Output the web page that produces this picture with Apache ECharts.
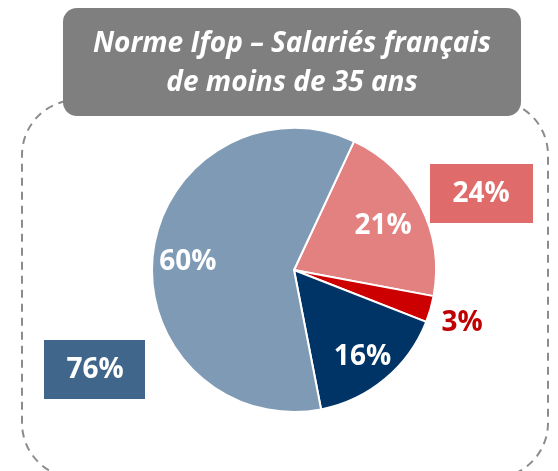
<!DOCTYPE html>
<html>
<head>
<meta charset="utf-8">
<script src="https://cdn.jsdelivr.net/npm/echarts@6/dist/echarts.min.js"></script>
<style>
	html, body { margin: 0; padding: 0; background: #fff; }
	#chart { width: 558px; height: 471px; }
</style>
</head>
<body>
<div id="chart"></div>
<script>
	// valeurs du camembert, dans l'ordre horaire depuis le haut
	const categories = ['Tout à fait', 'Plutôt', 'Plutôt pas', 'Pas du tout'];
	const values = [21, 3, 16, 60];
	const colors = ['#E38080', '#CC0000', '#003366', '#7F9AB4'];
	// totaux affichés dans les encadrés
	const totalLabels = ['24%', '76%'];
	const titleLines = ['Norme Ifop – Salariés français', 'de moins de 35 ans'];

	const font = '"Open Sans", sans-serif';
	const center = [294, 270];
	const labelCenter = [294, 275]; // étiquettes un peu plus bas

	const pieData = categories.map((name, i) => ({
		name: name,
		value: values[i],
		itemStyle: { color: colors[i] }
	}));

	// séries invisibles qui ne servent qu'à placer les étiquettes
	const insideLabels = pieData.map((d, i) => ({
		name: d.name,
		value: d.value,
		label: {
			show: values[i] > 5,
			padding: i === 0 ? [4, 12, 0, 0] : 0
		}
	}));
	const outsideLabels = pieData.map((d, i) => ({
		name: d.name,
		value: d.value,
		label: { show: values[i] <= 5 }
	}));

	const chart = echarts.init(document.getElementById('chart'));

	chart.setOption({
		animation: false,
		graphic: [
			{ //cadre pointillé
				type: 'rect',
				z: 1,
				shape: { x: 22, y: 100, width: 526, height: 378, r: 55 },
				style: { fill: 'none', stroke: '#8C8C8C', lineWidth: 2, lineDash: [8, 6] }
			},
			{ //bandeau du titre
				type: 'rect',
				z: 5,
				shape: { x: 63, y: 8, width: 458, height: 108, r: 14 },
				style: { fill: '#7F7F7F' }
			},
			{
				type: 'text',
				z: 6,
				x: 292, y: 64,
				style: {
					text: titleLines.join('\n'),
					fill: '#fff',
					font: 'italic bold 28px ' + font,
					lineHeight: 39,
					align: 'center',
					verticalAlign: 'middle'
				}
			},
			{ //encadré 24%
				type: 'rect',
				z: 5,
				shape: { x: 430, y: 164, width: 103, height: 59 },
				style: { fill: '#E06B6B' }
			},
			{
				type: 'text',
				z: 6,
				x: 481, y: 194,
				style: {
					text: totalLabels[0],
					fill: '#fff',
					font: 'bold 28px ' + font,
					align: 'center',
					verticalAlign: 'middle'
				}
			},
			{ //encadré 76%
				type: 'rect',
				z: 5,
				shape: { x: 44, y: 340, width: 101, height: 59 },
				style: { fill: '#41668C' }
			},
			{
				type: 'text',
				z: 6,
				x: 95, y: 370,
				style: {
					text: totalLabels[1],
					fill: '#fff',
					font: 'bold 28px ' + font,
					align: 'center',
					verticalAlign: 'middle'
				}
			}
		],
		series: [
			{
				type: 'pie',
				center: center,
				radius: 142,
				startAngle: 65,
				clockwise: true,
				label: { show: false },
				labelLine: { show: false },
				itemStyle: { borderColor: '#fff', borderWidth: 2 },
				data: pieData
			},
			{
				type: 'pie',
				silent: true,
				center: labelCenter,
				radius: [62, 146],
				startAngle: 65,
				clockwise: true,
				itemStyle: { color: 'rgba(0,0,0,0)' },
				labelLine: { show: false },
				label: {
					position: 'inside',
					formatter: '{c}%',
					color: '#fff',
					fontFamily: font,
					fontWeight: 'bold',
					fontSize: 28
				},
				data: insideLabels
			},
			{
				type: 'pie',
				silent: true,
				center: labelCenter,
				radius: [142, 202],
				startAngle: 65,
				clockwise: true,
				itemStyle: { color: 'rgba(0,0,0,0)' },
				labelLine: { show: false },
				label: {
					position: 'inside',
					formatter: '{c}%',
					color: '#C00000',
					fontFamily: font,
					fontWeight: 'bold',
					fontSize: 28
				},
				data: outsideLabels
			}
		]
	});
</script>
</body>
</html>
